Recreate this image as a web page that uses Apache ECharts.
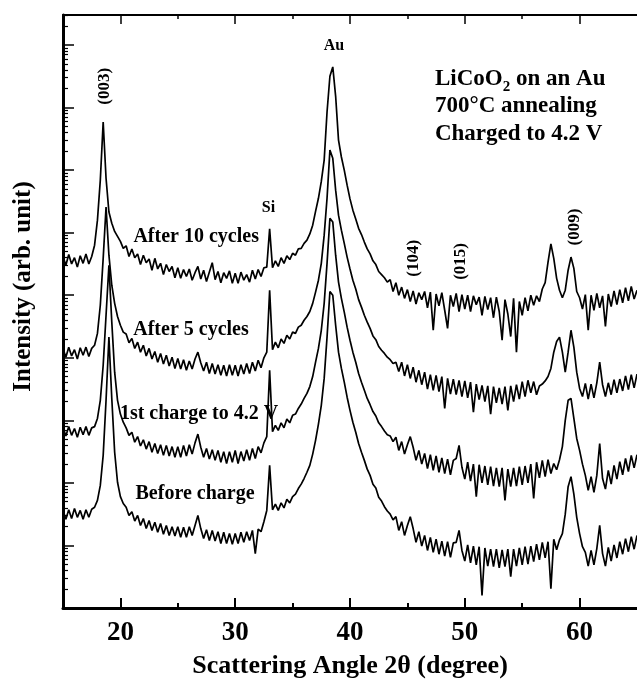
<!DOCTYPE html>
<html>
<head>
<meta charset="utf-8">
<title>LiCoO2 on Au - XRD</title>
<script src="https://cdn.jsdelivr.net/npm/echarts@6/dist/echarts.min.js"></script>
<style>
  html, body { margin: 0; padding: 0; background: #fff; }
  #main { width: 637px; height: 686px; }
</style>
</head>
<body>
<div id="main"></div>
<script>
// scan: 2-theta from 15 deg, one reading every 0.25 deg
const angleStart = 15;
const angleStep = 0.25;

// log10 of intensity (arb. unit)
const after10 = [
  5.62, 5.48, 5.65, 5.50, 5.60, 5.45, 5.63, 5.51, 5.66, 5.50, 5.62, 5.80, 6.20, 6.84, 7.77, 6.87, 6.33, 6.15, 6.02, 5.94,
  5.86, 5.75, 5.79, 5.62, 5.74, 5.60, 5.66, 5.49, 5.64, 5.52, 5.58, 5.40, 5.59, 5.42, 5.51, 5.33, 5.49, 5.38, 5.46, 5.28,
  5.44, 5.27, 5.41, 5.30, 5.42, 5.24, 5.36, 5.46, 5.26, 5.40, 5.22, 5.37, 5.52, 5.25, 5.38, 5.20, 5.36, 5.27, 5.39, 5.19,
  5.35, 5.19, 5.37, 5.24, 5.33, 5.21, 5.40, 5.26, 5.41, 5.30, 5.44, 5.45, 6.06, 5.44, 5.55, 5.46, 5.60, 5.51, 5.63, 5.57,
  5.67, 5.64, 5.74, 5.75, 5.83, 5.88, 5.98, 6.12, 6.34, 6.55, 6.82, 7.16, 7.93, 8.50, 8.65, 8.18, 7.48, 7.21, 7.00, 6.76,
  6.54, 6.36, 6.22, 6.07, 5.97, 5.85, 5.74, 5.66, 5.55, 5.49, 5.38, 5.33, 5.28, 5.21, 5.25, 5.06, 5.20, 5.00, 5.13, 4.95,
  5.09, 4.90, 5.07, 4.86, 5.04, 4.93, 5.06, 4.80, 5.05, 4.44, 5.02, 4.83, 5.04, 4.76, 4.47, 5.00, 4.82, 5.03, 4.74, 5.01,
  4.78, 5.00, 4.74, 4.99, 4.85, 4.97, 4.68, 4.98, 4.77, 4.96, 4.64, 4.97, 4.74, 4.28, 4.93, 4.70, 4.34, 4.95, 4.09, 4.90,
  4.68, 4.96, 4.75, 5.00, 4.84, 4.99, 4.90, 5.10, 5.20, 5.53, 5.82, 5.59, 5.27, 5.08, 4.96, 5.08, 5.40, 5.61, 5.43, 5.06,
  4.96, 4.78, 5.01, 4.44, 5.00, 4.76, 5.03, 4.80, 4.99, 4.50, 5.02, 4.82, 5.07, 4.85, 5.09, 4.88, 5.12, 4.91, 5.14, 4.94,
  5.08
];
const after5 = [
  4.15, 4.01, 4.17, 4.03, 4.13, 3.98, 4.16, 4.04, 4.17, 4.02, 4.15, 4.20, 4.39, 4.84, 5.59, 6.41, 5.64, 5.16, 4.87, 4.66,
  4.52, 4.41, 4.38, 4.24, 4.31, 4.15, 4.25, 4.09, 4.20, 4.03, 4.15, 3.98, 4.10, 3.93, 4.07, 3.90, 4.04, 3.87, 4.01, 3.83,
  3.99, 3.82, 3.97, 3.80, 3.95, 3.82, 3.98, 4.09, 3.92, 3.79, 3.93, 3.75, 3.91, 3.74, 3.89, 3.72, 3.88, 3.71, 3.89, 3.72,
  3.88, 3.71, 3.89, 3.74, 3.91, 3.75, 3.93, 3.79, 3.96, 3.84, 4.00, 4.09, 5.08, 4.13, 4.25, 4.16, 4.30, 4.23, 4.36, 4.30,
  4.41, 4.39, 4.49, 4.52, 4.60, 4.66, 4.74, 4.87, 5.05, 5.24, 5.51, 5.96, 6.55, 7.32, 7.19, 6.68, 6.28, 6.04, 5.83, 5.61,
  5.42, 5.24, 5.10, 4.93, 4.81, 4.68, 4.57, 4.47, 4.35, 4.29, 4.18, 4.12, 4.07, 4.01, 3.97, 3.91, 3.93, 3.78, 3.93, 3.71,
  3.89, 3.67, 3.85, 3.61, 3.80, 3.57, 3.77, 3.50, 3.73, 3.48, 3.72, 3.46, 3.70, 3.19, 3.67, 3.42, 3.66, 3.41, 3.64, 3.38,
  3.63, 3.36, 3.61, 3.13, 3.58, 3.33, 3.56, 3.30, 3.55, 3.10, 3.54, 3.28, 3.52, 3.26, 3.54, 3.16, 3.55, 3.30, 3.57, 3.34,
  3.62, 3.38, 3.64, 3.44, 3.62, 3.41, 3.55, 3.58, 3.63, 3.70, 3.83, 4.09, 4.26, 4.33, 4.09, 3.77, 4.09, 4.44, 4.17, 3.77,
  3.51, 3.38, 3.59, 3.34, 3.58, 3.36, 3.60, 3.93, 3.57, 3.38, 3.60, 3.41, 3.65, 3.44, 3.66, 3.47, 3.71, 3.49, 3.73, 3.52,
  3.74
];
const firstCharge = [
  2.89, 2.75, 2.90, 2.76, 2.87, 2.73, 2.89, 2.77, 2.90, 2.76, 2.88, 2.90, 3.03, 3.32, 3.88, 4.68, 5.48, 4.57, 3.77, 3.32,
  3.10, 2.97, 2.88, 2.76, 2.81, 2.65, 2.74, 2.59, 2.69, 2.54, 2.66, 2.49, 2.63, 2.47, 2.61, 2.44, 2.60, 2.43, 2.58, 2.41,
  2.58, 2.41, 2.60, 2.43, 2.61, 2.46, 2.64, 2.78, 2.57, 2.41, 2.55, 2.38, 2.53, 2.36, 2.52, 2.33, 2.50, 2.31, 2.50, 2.33,
  2.52, 2.31, 2.50, 2.35, 2.53, 2.36, 2.55, 2.39, 2.58, 2.48, 2.64, 2.74, 3.80, 2.82, 2.92, 2.84, 2.96, 2.88, 3.02, 2.96,
  3.08, 3.10, 3.19, 3.26, 3.35, 3.43, 3.54, 3.70, 3.93, 4.15, 4.44, 4.87, 5.51, 6.23, 6.17, 5.64, 5.21, 4.95, 4.73, 4.49,
  4.28, 4.09, 3.93, 3.75, 3.61, 3.48, 3.35, 3.25, 3.14, 3.07, 2.96, 2.90, 2.83, 2.77, 2.75, 2.66, 2.73, 2.52, 2.66, 2.46,
  2.61, 2.74, 2.57, 2.36, 2.52, 2.30, 2.47, 2.23, 2.45, 2.20, 2.43, 2.17, 2.40, 2.15, 2.38, 2.13, 2.36, 2.39, 2.60, 2.25,
  2.06, 2.33, 2.03, 2.30, 1.78, 2.29, 2.00, 2.27, 1.97, 2.26, 1.95, 2.24, 1.94, 2.24, 1.72, 2.22, 1.94, 2.24, 1.95, 2.26,
  1.97, 2.27, 2.00, 2.30, 1.75, 2.33, 2.08, 2.36, 2.10, 2.37, 2.15, 2.31, 2.21, 2.37, 2.58, 3.00, 3.32, 3.35, 3.03, 2.71,
  2.52, 2.30, 2.12, 1.88, 2.10, 1.85, 2.12, 2.63, 2.07, 1.90, 2.20, 1.98, 2.28, 2.06, 2.34, 2.13, 2.39, 2.18, 2.44, 2.24,
  2.45
];
const beforeCharge = [
  1.56, 1.42, 1.57, 1.43, 1.59, 1.45, 1.56, 1.42, 1.57, 1.45, 1.58, 1.61, 1.72, 1.96, 2.44, 3.32, 4.33, 3.35, 2.49, 2.01,
  1.78, 1.67, 1.61, 1.48, 1.54, 1.39, 1.48, 1.32, 1.43, 1.27, 1.40, 1.24, 1.37, 1.21, 1.35, 1.18, 1.32, 1.16, 1.30, 1.15,
  1.30, 1.13, 1.29, 1.13, 1.30, 1.16, 1.32, 1.48, 1.27, 1.11, 1.25, 1.08, 1.24, 1.07, 1.22, 1.03, 1.21, 1.03, 1.19, 1.02,
  1.19, 1.03, 1.21, 1.05, 1.22, 1.08, 1.24, 0.87, 1.26, 1.22, 1.38, 1.56, 2.28, 1.57, 1.66, 1.56, 1.68, 1.60, 1.74, 1.68,
  1.78, 1.82, 1.91, 1.98, 2.07, 2.17, 2.28, 2.46, 2.68, 2.94, 3.24, 3.67, 4.33, 5.06, 5.00, 4.52, 4.09, 3.83, 3.61, 3.37,
  3.16, 2.97, 2.81, 2.63, 2.49, 2.36, 2.22, 2.12, 1.98, 1.92, 1.77, 1.71, 1.62, 1.55, 1.50, 1.41, 1.46, 1.24, 1.38, 1.16,
  1.32, 1.46, 1.27, 1.05, 1.22, 0.99, 1.16, 0.92, 1.13, 0.89, 1.10, 0.86, 1.07, 0.83, 1.06, 0.81, 1.04, 1.05, 1.24, 0.92,
  0.75, 1.01, 0.72, 0.99, 0.69, 0.98, 0.20, 0.96, 0.67, 0.94, 0.66, 0.94, 0.64, 0.93, 0.66, 0.94, 0.50, 0.94, 0.67, 0.96,
  0.69, 0.98, 0.70, 0.99, 0.74, 1.02, 0.77, 1.05, 0.80, 1.06, 0.31, 1.10, 0.93, 1.09, 1.19, 1.50, 1.94, 2.10, 1.82, 1.45,
  1.19, 0.98, 0.89, 0.67, 0.92, 0.69, 0.95, 1.32, 0.87, 0.67, 0.97, 0.75, 1.01, 0.80, 1.06, 0.86, 1.11, 0.90, 1.14, 0.94,
  1.16
];

const xMajor = [20, 30, 40, 50, 60];
const xMinor = [25, 35, 45, 55];
const yDecades = [0, 1, 2, 3, 4, 5, 6, 7, 8, 9];
const yMax = 9.48;

// text placed on the plot, at data coordinates
const curveNames = [
  { text: 'After 10 cycles', at: [26.6, 5.93] },
  { text: 'After 5 cycles', at: [26.15, 4.44] },
  { text: '1st charge to 4.2 V', at: [26.85, 3.11] },
  { text: 'Before charge', at: [26.5, 1.82] }
];
const peakNames = [
  { text: '(003)', at: [18.65, 8.34], rotate: 90 },
  { text: 'Au', at: [38.6, 8.98], rotate: 0 },
  { text: 'Si', at: [32.9, 6.39], rotate: 0 },
  { text: '(104)', at: [45.5, 5.59], rotate: 90 },
  { text: '(015)', at: [49.6, 5.54], rotate: 90 },
  { text: '(009)', at: [59.55, 6.09], rotate: 90 }
];
const sampleNotes = [
  { text: '{a|LiCoO}{s|2}{a| on an Au}', at: [47.4, 8.45] },
  { text: '{a|700°C annealing}', at: [47.4, 8.02] },
  { text: '{a|Charged to 4.2 V}', at: [47.4, 7.58] }
];

const serif = '"Liberation Serif", "Times New Roman", serif';

// log minor ticks: k + log10(m)
const yMinor = [];
yDecades.forEach(k => {
  for (let m = 2; m <= 9; m++) {
    const v = k + Math.log10(m);
    if (v < yMax) yMinor.push(v);
  }
});

const toPairs = vals => vals.map((v, i) => [angleStart + i * angleStep, v]);

const traceSeries = [after10, after5, firstCharge, beforeCharge].map((vals, i) => ({
  name: curveNames[i].text,
  type: 'line',
  xAxisIndex: 0,
  yAxisIndex: 0,
  data: toPairs(vals),
  symbol: 'none',
  silent: true,
  lineStyle: { color: '#000', width: 1.7 },
  z: 3
}));

const boldText = size => ({
  color: '#000', fontSize: size, fontWeight: 'bold', fontFamily: serif
});

const labelSeries = {
  type: 'scatter',
  xAxisIndex: 0,
  yAxisIndex: 0,
  symbolSize: 0,
  silent: true,
  itemStyle: { opacity: 1 },
  z: 5,
  data: [].concat(
    curveNames.map(c => ({
      value: c.at,
      label: Object.assign({ show: true, position: 'inside', formatter: c.text }, boldText(20))
    })),
    peakNames.map(p => ({
      value: p.at,
      label: Object.assign({
        show: true, position: 'inside', formatter: p.text, rotate: p.rotate
      }, boldText(p.text === 'Au' || p.text === 'Si' ? 16 : 17))
    })),
    sampleNotes.map(n => ({
      value: n.at,
      label: {
        show: true, position: 'right', distance: 0, formatter: n.text,
        rich: {
          a: boldText(23),
          s: Object.assign({ padding: [16, 0, 0, 0] }, boldText(15))
        }
      }
    }))
  )
};

const gridBox = { left: 63, width: 581, top: 15, bottom: 78 };

const option = {
  animation: false,
  backgroundColor: '#fff',
  grid: [Object.assign({}, gridBox), Object.assign({}, gridBox)],
  xAxis: [
    {
      gridIndex: 0, type: 'value', position: 'bottom', min: 15, max: 65,
      axisLine: { lineStyle: { color: '#000', width: 3 } },
      axisTick: { inside: true, length: 10, customValues: xMajor, lineStyle: { color: '#000', width: 2 } },
      axisLabel: Object.assign({ customValues: xMajor, margin: 12 }, boldText(27)),
      splitLine: { show: false },
      name: 'Scattering Angle 2θ (degree)',
      nameLocation: 'middle',
      nameGap: 45,
      nameTextStyle: boldText(26)
    },
    {
      gridIndex: 0, type: 'value', position: 'top', min: 15, max: 65,
      axisLine: { lineStyle: { color: '#000', width: 2 } },
      axisTick: { inside: true, length: 9, customValues: xMajor, lineStyle: { color: '#000', width: 1.5 } },
      axisLabel: { show: false },
      splitLine: { show: false }
    },
    {
      gridIndex: 1, type: 'value', position: 'bottom', min: 15, max: 65,
      axisLine: { show: false },
      axisTick: { inside: true, length: 5, customValues: xMinor, lineStyle: { color: '#000', width: 2 } },
      axisLabel: { show: false },
      splitLine: { show: false }
    },
    {
      gridIndex: 1, type: 'value', position: 'top', min: 15, max: 65,
      axisLine: { show: false },
      axisTick: { inside: true, length: 4, customValues: xMinor, lineStyle: { color: '#000', width: 1.5 } },
      axisLabel: { show: false },
      splitLine: { show: false }
    }
  ],
  yAxis: [
    {
      gridIndex: 0, type: 'value', position: 'left', min: 0, max: yMax,
      axisLine: { lineStyle: { color: '#000', width: 3 } },
      axisTick: { inside: true, length: 11, customValues: yDecades, lineStyle: { color: '#000', width: 1.5 } },
      axisLabel: { show: false },
      splitLine: { show: false },
      name: 'Intensity (arb. unit)',
      nameLocation: 'middle',
      nameGap: 27,
      nameTextStyle: Object.assign({ padding: [0, 0, 0, 50] }, boldText(25))
    },
    {
      gridIndex: 1, type: 'value', position: 'left', min: 0, max: yMax,
      axisLine: { show: false },
      axisTick: { inside: true, length: 5, customValues: yMinor, lineStyle: { color: '#000', width: 1.2 } },
      axisLabel: { show: false },
      splitLine: { show: false }
    }
  ],
  series: traceSeries.concat([labelSeries])
};

const chart = echarts.init(document.getElementById('main'));
chart.setOption(option);
</script>
</body>
</html>
